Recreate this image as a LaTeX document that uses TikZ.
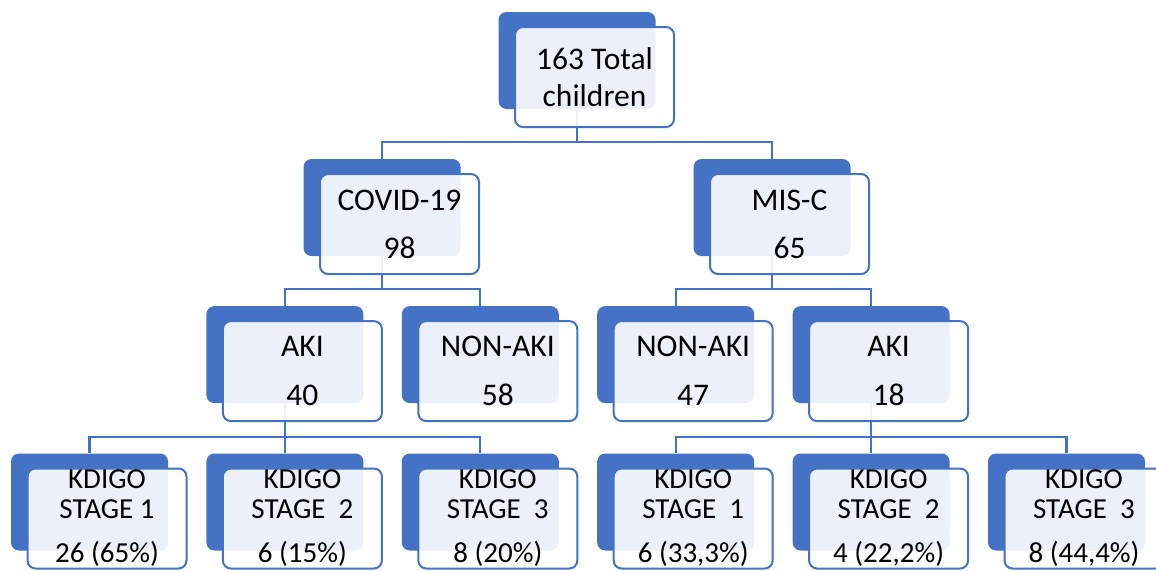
\documentclass[tikz,border=0pt]{standalone}
\usepackage{fontspec}
\setmainfont{Carlito}
\usepackage{xcolor}
\usetikzlibrary{positioning}
\definecolor{artblue}{HTML}{4472C4}
\tikzset{
    backbox/.style={rectangle, fill=artblue, rounded corners=8pt, minimum width=157pt, minimum height=97pt, inner sep=0pt},
    frontbox/.style={rectangle, draw=artblue, line width=2pt, fill=white, fill opacity=0.9, text opacity=1, rounded corners=8pt, minimum width=159pt, minimum height=100pt, inner sep=0pt, align=center, font=\fontsize{31.5}{37}\selectfont},
    stagebox/.style={frontbox, font=\fontsize{29}{30}\selectfont},
    link/.style={draw=artblue, line width=2.2pt}
}

\begin{document}
\begin{tikzpicture}[x=1pt, y=-1pt]
    \useasboundingbox (0,0) rectangle (1156,570);

    % Back boxes, KDIGO level
    \node [backbox] (k1) at (89.5,502) {};
    \node [backbox, right=38pt of k1] (k2) {};
    \node [backbox, right=38pt of k2] (k3) {};
    \node [backbox, right=38pt of k3] (k4) {};
    \node [backbox, right=38pt of k4] (k5) {};
    \node [backbox, right=38pt of k5] (k6) {};

    % Back boxes, AKI level
    \node [backbox, above=50pt of k2] (aki1) {};
    \node [backbox, right=38pt of aki1] (nonaki1) {};
    \node [backbox, right=38pt of nonaki1] (nonaki2) {};
    \node [backbox, right=38pt of nonaki2] (aki2) {};

    % Back boxes, groups and total
    \node [backbox] (covid) at (382,207.5) {};
    \node [backbox] (misc) at (772,207.5) {};
    \node [backbox] (total) at (577,60.5) {};

    % Connectors
    \draw [link] (total.south) -- ++(0,33) -| (covid.north);
    \draw [link] (total.south) -- ++(0,33) -| (misc.north);
    \draw [link] (covid.south) -- ++(0,33) -| (aki1.north);
    \draw [link] (covid.south) -- ++(0,33) -| (nonaki1.north);
    \draw [link] (misc.south) -- ++(0,33) -| (nonaki2.north);
    \draw [link] (misc.south) -- ++(0,33) -| (aki2.north);
    \draw [link] (aki1.south) -- ++(0,34) -| (k1.north);
    \draw [link] (aki1.south) -- ++(0,34) -| (k2.north);
    \draw [link] (aki1.south) -- ++(0,34) -| (k3.north);
    \draw [link] (aki2.south) -- ++(0,34) -| (k4.north);
    \draw [link] (aki2.south) -- ++(0,34) -| (k5.north);
    \draw [link] (aki2.south) -- ++(0,34) -| (k6.north);

    % Front boxes with the texts
    \node [frontbox] (totalf) at ([shift={(17.5,16.5)}]total.center) {163 Total\\children};
    \node [frontbox] (covidf) at ([shift={(17.5,16.5)}]covid.center) {COVID-19\\[11pt]98};
    \node [frontbox] (miscf) at ([shift={(17.5,16.5)}]misc.center) {MIS-C\\[11pt]65};
    \node [frontbox] (aki1f) at ([shift={(17.5,16.5)}]aki1.center) {AKI\\[12pt]40};
    \node [frontbox] (nonaki1f) at ([shift={(17.5,16.5)}]nonaki1.center) {NON-AKI\\[12pt]58};
    \node [frontbox] (nonaki2f) at ([shift={(17.5,16.5)}]nonaki2.center) {NON-AKI\\[12pt]47};
    \node [frontbox] (aki2f) at ([shift={(17.5,16.5)}]aki2.center) {AKI\\[12pt]18};
    \node [stagebox] (k1f) at ([shift={(17.5,16.5)}]k1.center) {KDIGO\\STAGE 1\\[14pt]26 (65\%)};
    \node [stagebox] (k2f) at ([shift={(17.5,16.5)}]k2.center) {KDIGO\\STAGE\ \ 2\\[14pt]6 (15\%)};
    \node [stagebox] (k3f) at ([shift={(17.5,16.5)}]k3.center) {KDIGO\\STAGE\ \ 3\\[14pt]8 (20\%)};
    \node [stagebox] (k4f) at ([shift={(17.5,16.5)}]k4.center) {KDIGO\\STAGE\ \ 1\\[14pt]6 (33,3\%)};
    \node [stagebox] (k5f) at ([shift={(17.5,16.5)}]k5.center) {KDIGO\\STAGE\ \ 2\\[14pt]4 (22,2\%)};
    \node [stagebox] (k6f) at ([shift={(17.5,16.5)}]k6.center) {KDIGO\\STAGE\ \ 3\\[14pt]8 (44,4\%)};
\end{tikzpicture}
\end{document}
